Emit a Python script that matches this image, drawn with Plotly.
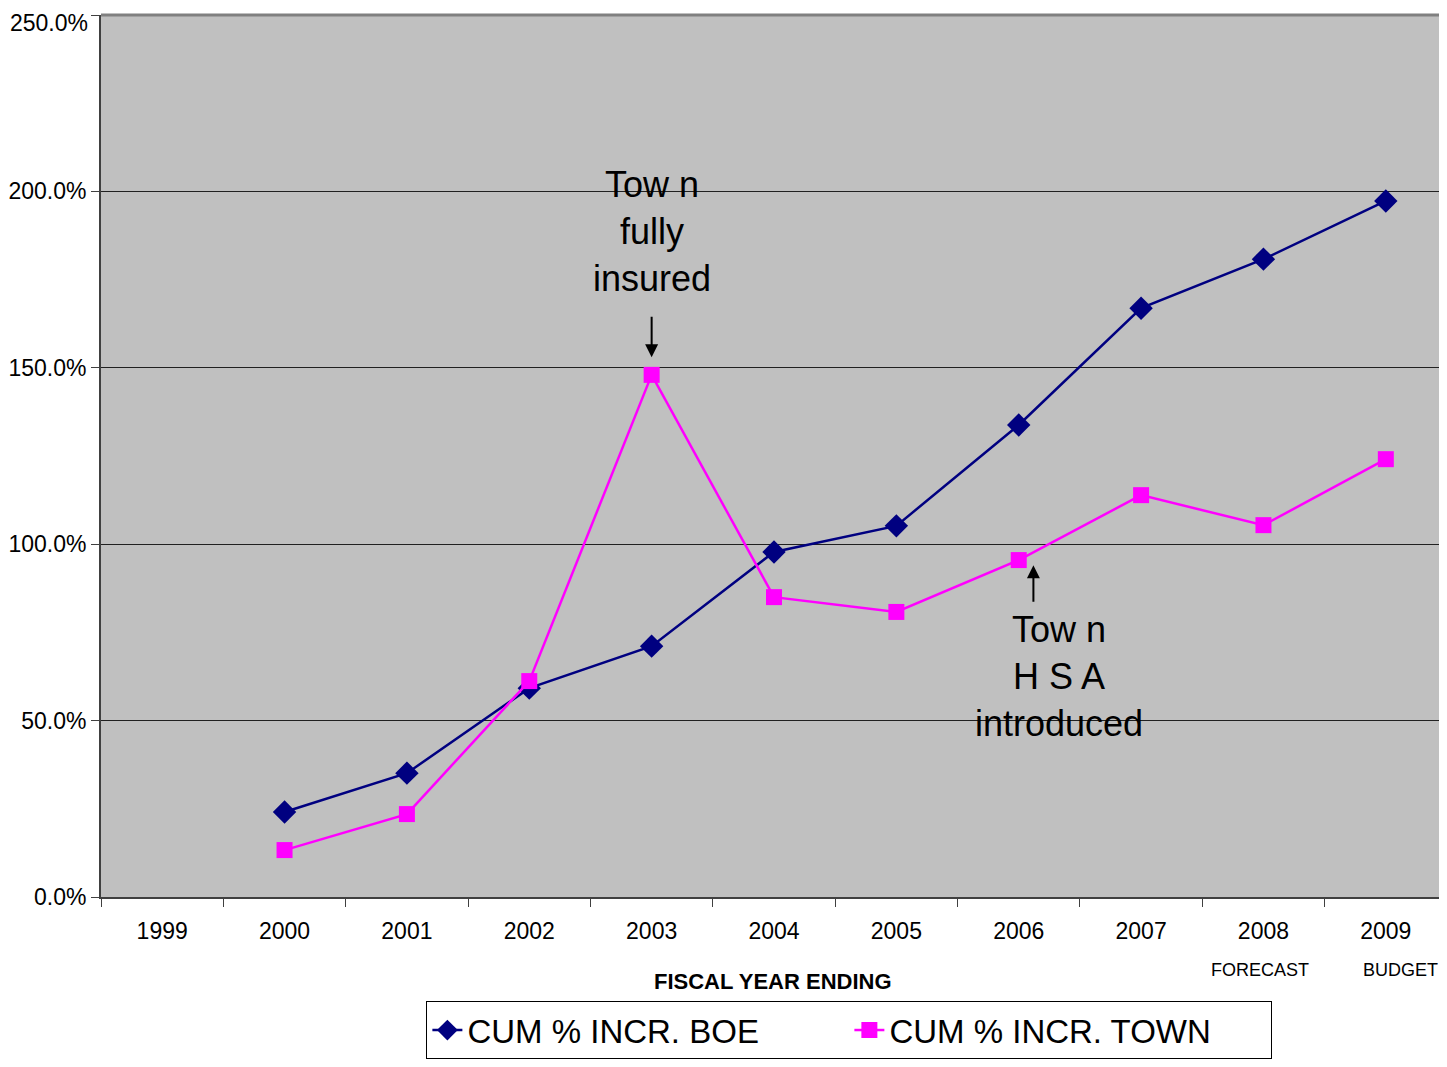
import plotly.graph_objects as go

# chart data
years = ["1999", "2000", "2001", "2002", "2003", "2004", "2005", "2006", "2007", "2008", "2009"]
boe_years = years[1:]
boe_pct = [24.1, 35.1, 59.2, 71.1, 97.8, 105.2, 133.8, 166.9, 180.8, 197.3]
town_years = years[1:]
town_pct = [13.3, 23.5, 61.2, 148.0, 85.0, 80.8, 95.5, 113.9, 105.4, 124.1]
y_max = 250
sub_labels = {"2008": "FORECAST", "2009": "BUDGET"}
note_insured = "Tow n<br>fully<br>insured"
note_hsa = "Tow n<br>H S A<br>introduced"

SANS = "Liberation Sans, Arial, sans-serif"

fig = go.Figure()
fig.add_trace(go.Scatter(
    x=boe_years, y=boe_pct, name="CUM % INCR. BOE", mode="lines+markers",
    line=dict(color="#000080", width=2.5),
    marker=dict(symbol="diamond", size=18, color="#000080")))
fig.add_trace(go.Scatter(
    x=town_years, y=town_pct, name="CUM % INCR. TOWN", mode="lines+markers",
    line=dict(color="#FF00FF", width=2.5),
    marker=dict(symbol="square", size=16, color="#FF00FF")))

# page body has an 8px margin, so the figure is sized/offset to compensate
fig.update_layout(
    width=1439, height=1059,
    margin=dict(l=93, r=0, t=7, b=170, autoexpand=False),
    paper_bgcolor="white", plot_bgcolor="#C0C0C0",
    font=dict(family=SANS, color="black"),
    showlegend=True,
    legend=dict(
        orientation="h", x=0.556, xanchor="center", y=-0.118, yanchor="top",
        font=dict(family=SANS, size=33, color="black"),
        bordercolor="black", borderwidth=1, bgcolor="white",
        itemsizing="trace", entrywidth=377),
)

fig.update_xaxes(
    type="category", categoryorder="array", categoryarray=years,
    range=[-0.5, 10.5], tickson="boundaries", automargin=False,
    showgrid=False, showline=True, linecolor="#404040", linewidth=2,
    ticks="outside", ticklen=8, tickcolor="#404040", tickwidth=1,
    tickfont=dict(size=23, family=SANS), ticklabelstandoff=12)
fig.update_yaxes(
    range=[0, y_max], dtick=50, tickformat=".1f", ticksuffix="%", automargin=False,
    showgrid=True, gridcolor="#202020", gridwidth=1,
    showline=True, linecolor="#404040", linewidth=2,
    ticks="outside", ticklen=8, tickcolor="#404040",
    tickfont=dict(size=23, family=SANS), zeroline=False)

# top tick label gets dropped by plotly (too close to the page edge), so add it by hand
fig.add_annotation(text=f"{y_max:.1f}%", xref="paper", yref="y", x=0, y=y_max,
                   xanchor="right", yanchor="middle", xshift=-11, yshift=-8,
                   showarrow=False, font=dict(size=23, family=SANS))

# top border of plot area
fig.add_shape(type="line", xref="paper", yref="paper", x0=0, x1=1, y0=1, y1=1,
              line=dict(color="#808080", width=3), layer="above")

# axis title
fig.add_annotation(text="<b>FISCAL YEAR ENDING</b>", xref="paper", yref="paper",
                   x=0.499, y=-0.096, xanchor="center", yanchor="middle",
                   showarrow=False, font=dict(size=22, family=SANS))

# second line labels under 2008 / 2009
shifts = {"2008": -3, "2009": 15}
for yr, lab in sub_labels.items():
    fig.add_annotation(text=lab, x=years.index(yr), xref="x", yref="paper", y=-0.0828,
                       xshift=shifts[yr], showarrow=False, yanchor="middle",
                       font=dict(size=18, family=SANS))

# notes
fig.add_annotation(text=note_insured, x=4.0, y=188.5, xref="x", yref="y",
                   showarrow=False, font=dict(size=36, family=SANS),
                   align="center", yanchor="middle")
fig.add_annotation(text="", x=years.index("2003"), y=153.0, ax=0, ay=-42,
                   xref="x", yref="y",
                   showarrow=True, arrowhead=2, arrowsize=1.3, arrowwidth=2,
                   arrowcolor="black")
fig.add_annotation(text=note_hsa, x=7.33, y=62.4, xref="x", yref="y",
                   showarrow=False, font=dict(size=36, family=SANS),
                   align="center", yanchor="middle")
fig.add_annotation(text="", x=7.12, y=94.0, ax=0, ay=38, xref="x", yref="y",
                   showarrow=True, arrowhead=2, arrowsize=1.3, arrowwidth=2,
                   arrowcolor="black")

fig.write_html("out.html")
